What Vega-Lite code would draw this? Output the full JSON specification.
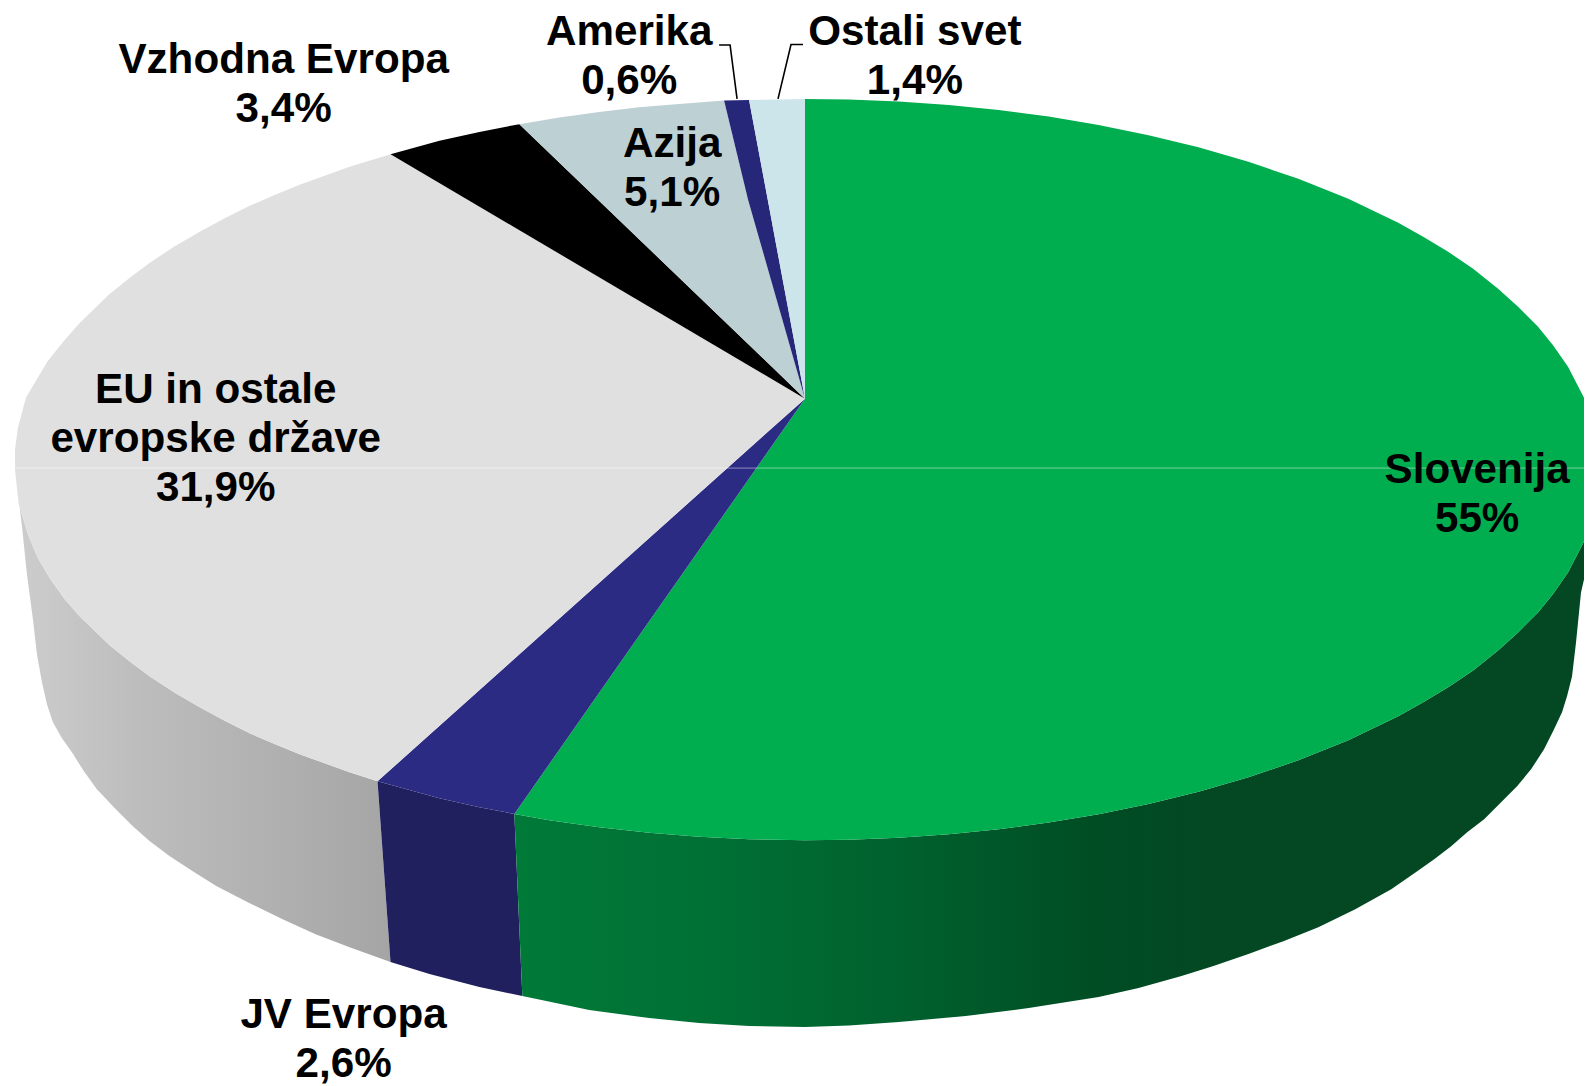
{"$schema":"https://vega.github.io/schema/vega-lite/v6.json","width":1586,"height":1086,"autosize":{"type":"fit","contains":"padding"},"padding":0,"background":"#ffffff","view":{"stroke":null},
"datasets":{
"walls":[
{"s":"grey","i":0,"x":378,"y":782},{"s":"grey","i":1,"x":350,"y":773},{"s":"grey","i":2,"x":325,"y":764},{"s":"grey","i":3,"x":300,"y":755},{"s":"grey","i":4,"x":275,"y":744.7},{"s":"grey","i":5,"x":250,"y":734},{"s":"grey","i":6,"x":225,"y":721.5},{"s":"grey","i":7,"x":200,"y":708},{"s":"grey","i":8,"x":175,"y":693.5},{"s":"grey","i":9,"x":150,"y":677},{"s":"grey","i":10,"x":130,"y":662},{"s":"grey","i":11,"x":110,"y":646},{"s":"grey","i":12,"x":80,"y":617},{"s":"grey","i":13,"x":65,"y":600},{"s":"grey","i":14,"x":50,"y":579},{"s":"grey","i":15,"x":38,"y":558.7},{"s":"grey","i":16,"x":28,"y":535},{"s":"grey","i":17,"x":19,"y":505},{"s":"grey","i":18,"x":15,"y":470},{"s":"grey","i":19,"x":22,"y":527},{"s":"grey","i":20,"x":27,"y":575},{"s":"grey","i":21,"x":33,"y":620},{"s":"grey","i":22,"x":37,"y":655},{"s":"grey","i":23,"x":42,"y":683},{"s":"grey","i":24,"x":47,"y":705},{"s":"grey","i":25,"x":53,"y":723},{"s":"grey","i":26,"x":62,"y":739},{"s":"grey","i":27,"x":72,"y":753},{"s":"grey","i":28,"x":84,"y":772},{"s":"grey","i":29,"x":97,"y":790},{"s":"grey","i":30,"x":115,"y":809},{"s":"grey","i":31,"x":133,"y":827},{"s":"grey","i":32,"x":150,"y":842},{"s":"grey","i":33,"x":170,"y":857},{"s":"grey","i":34,"x":193,"y":872},{"s":"grey","i":35,"x":217,"y":887},{"s":"grey","i":36,"x":250,"y":904},{"s":"grey","i":37,"x":283,"y":920},{"s":"grey","i":38,"x":316,"y":935},{"s":"grey","i":39,"x":350,"y":948},{"s":"grey","i":40,"x":391,"y":963},
{"s":"blue","i":0,"x":378,"y":782},{"s":"blue","i":1,"x":400,"y":788},{"s":"blue","i":2,"x":440,"y":799},{"s":"blue","i":3,"x":480,"y":808},{"s":"blue","i":4,"x":515,"y":814.7},{"s":"blue","i":5,"x":523,"y":997},{"s":"blue","i":6,"x":480,"y":988},{"s":"blue","i":7,"x":430,"y":975},{"s":"blue","i":8,"x":391,"y":963},
{"s":"green","i":0,"x":515,"y":814.7},{"s":"green","i":1,"x":550,"y":821},{"s":"green","i":2,"x":600,"y":828},{"s":"green","i":3,"x":650,"y":833.6},{"s":"green","i":4,"x":700,"y":837.5},{"s":"green","i":5,"x":750,"y":840},{"s":"green","i":6,"x":806,"y":841},{"s":"green","i":7,"x":850,"y":840.5},{"s":"green","i":8,"x":900,"y":838.5},{"s":"green","i":9,"x":950,"y":835},{"s":"green","i":10,"x":1000,"y":830},{"s":"green","i":11,"x":1050,"y":823.3},{"s":"green","i":12,"x":1100,"y":815},{"s":"green","i":13,"x":1150,"y":804.7},{"s":"green","i":14,"x":1200,"y":792.5},{"s":"green","i":15,"x":1250,"y":778},{"s":"green","i":16,"x":1300,"y":761},{"s":"green","i":17,"x":1350,"y":741},{"s":"green","i":18,"x":1400,"y":717},{"s":"green","i":19,"x":1425,"y":703},{"s":"green","i":20,"x":1450,"y":688},{"s":"green","i":21,"x":1475,"y":671},{"s":"green","i":22,"x":1500,"y":651},{"s":"green","i":23,"x":1520,"y":633},{"s":"green","i":24,"x":1540,"y":613},{"s":"green","i":25,"x":1555,"y":594.5},{"s":"green","i":26,"x":1570,"y":573},{"s":"green","i":27,"x":1586,"y":542},{"s":"green","i":28,"x":1586,"y":580},{"s":"green","i":29,"x":1583,"y":593},{"s":"green","i":30,"x":1578,"y":643},{"s":"green","i":31,"x":1574,"y":677},{"s":"green","i":32,"x":1569,"y":697},{"s":"green","i":33,"x":1564,"y":713},{"s":"green","i":34,"x":1556,"y":730},{"s":"green","i":35,"x":1546,"y":750},{"s":"green","i":36,"x":1533,"y":770},{"s":"green","i":37,"x":1519,"y":787},{"s":"green","i":38,"x":1503,"y":803},{"s":"green","i":39,"x":1486,"y":820},{"s":"green","i":40,"x":1469,"y":833},{"s":"green","i":41,"x":1453,"y":847},{"s":"green","i":42,"x":1436,"y":860},{"s":"green","i":43,"x":1419,"y":872},{"s":"green","i":44,"x":1393,"y":890},{"s":"green","i":45,"x":1357,"y":910},{"s":"green","i":46,"x":1320,"y":928},{"s":"green","i":47,"x":1285,"y":942},{"s":"green","i":48,"x":1250,"y":955},{"s":"green","i":49,"x":1215,"y":967},{"s":"green","i":50,"x":1183,"y":977},{"s":"green","i":51,"x":1140,"y":989},{"s":"green","i":52,"x":1100,"y":998},{"s":"green","i":53,"x":1030,"y":1009},{"s":"green","i":54,"x":967,"y":1017},{"s":"green","i":55,"x":900,"y":1023},{"s":"green","i":56,"x":850,"y":1026.5},{"s":"green","i":57,"x":806,"y":1028},{"s":"green","i":58,"x":750,"y":1027},{"s":"green","i":59,"x":700,"y":1024},{"s":"green","i":60,"x":650,"y":1019},{"s":"green","i":61,"x":590,"y":1011},{"s":"green","i":62,"x":523,"y":997}
],
"tops":[
{"s":"Slovenija","i":0,"x":806,"y":399},{"s":"Slovenija","i":1,"x":806,"y":99},{"s":"Slovenija","i":2,"x":850,"y":99.5},{"s":"Slovenija","i":3,"x":900,"y":101.5},{"s":"Slovenija","i":4,"x":950,"y":105},{"s":"Slovenija","i":5,"x":1000,"y":110},{"s":"Slovenija","i":6,"x":1050,"y":116.7},{"s":"Slovenija","i":7,"x":1100,"y":125},{"s":"Slovenija","i":8,"x":1150,"y":135.3},{"s":"Slovenija","i":9,"x":1200,"y":147.5},{"s":"Slovenija","i":10,"x":1250,"y":162},{"s":"Slovenija","i":11,"x":1300,"y":179},{"s":"Slovenija","i":12,"x":1350,"y":199},{"s":"Slovenija","i":13,"x":1400,"y":223},{"s":"Slovenija","i":14,"x":1425,"y":237},{"s":"Slovenija","i":15,"x":1450,"y":252},{"s":"Slovenija","i":16,"x":1475,"y":269},{"s":"Slovenija","i":17,"x":1500,"y":289},{"s":"Slovenija","i":18,"x":1520,"y":307},{"s":"Slovenija","i":19,"x":1540,"y":327},{"s":"Slovenija","i":20,"x":1555,"y":345.5},{"s":"Slovenija","i":21,"x":1570,"y":367},{"s":"Slovenija","i":22,"x":1586,"y":398},{"s":"Slovenija","i":23,"x":1586,"y":542},{"s":"Slovenija","i":24,"x":1570,"y":573},{"s":"Slovenija","i":25,"x":1555,"y":594.5},{"s":"Slovenija","i":26,"x":1540,"y":613},{"s":"Slovenija","i":27,"x":1520,"y":633},{"s":"Slovenija","i":28,"x":1500,"y":651},{"s":"Slovenija","i":29,"x":1475,"y":671},{"s":"Slovenija","i":30,"x":1450,"y":688},{"s":"Slovenija","i":31,"x":1425,"y":703},{"s":"Slovenija","i":32,"x":1400,"y":717},{"s":"Slovenija","i":33,"x":1350,"y":741},{"s":"Slovenija","i":34,"x":1300,"y":761},{"s":"Slovenija","i":35,"x":1250,"y":778},{"s":"Slovenija","i":36,"x":1200,"y":792.5},{"s":"Slovenija","i":37,"x":1150,"y":804.7},{"s":"Slovenija","i":38,"x":1100,"y":815},{"s":"Slovenija","i":39,"x":1050,"y":823.3},{"s":"Slovenija","i":40,"x":1000,"y":830},{"s":"Slovenija","i":41,"x":950,"y":835},{"s":"Slovenija","i":42,"x":900,"y":838.5},{"s":"Slovenija","i":43,"x":850,"y":840.5},{"s":"Slovenija","i":44,"x":806,"y":841},{"s":"Slovenija","i":45,"x":750,"y":840},{"s":"Slovenija","i":46,"x":700,"y":837.5},{"s":"Slovenija","i":47,"x":650,"y":833.6},{"s":"Slovenija","i":48,"x":600,"y":828},{"s":"Slovenija","i":49,"x":550,"y":821},{"s":"Slovenija","i":50,"x":515,"y":814.7},
{"s":"JV Evropa","i":0,"x":806,"y":399},{"s":"JV Evropa","i":1,"x":515,"y":814.7},{"s":"JV Evropa","i":2,"x":480,"y":808},{"s":"JV Evropa","i":3,"x":440,"y":799},{"s":"JV Evropa","i":4,"x":400,"y":788},{"s":"JV Evropa","i":5,"x":378,"y":782},
{"s":"EU in ostale evropske države","i":0,"x":806,"y":399},{"s":"EU in ostale evropske države","i":1,"x":378,"y":782},{"s":"EU in ostale evropske države","i":2,"x":350,"y":773},{"s":"EU in ostale evropske države","i":3,"x":325,"y":764},{"s":"EU in ostale evropske države","i":4,"x":300,"y":755},{"s":"EU in ostale evropske države","i":5,"x":275,"y":744.7},{"s":"EU in ostale evropske države","i":6,"x":250,"y":734},{"s":"EU in ostale evropske države","i":7,"x":225,"y":721.5},{"s":"EU in ostale evropske države","i":8,"x":200,"y":708},{"s":"EU in ostale evropske države","i":9,"x":175,"y":693.5},{"s":"EU in ostale evropske države","i":10,"x":150,"y":677},{"s":"EU in ostale evropske države","i":11,"x":130,"y":662},{"s":"EU in ostale evropske države","i":12,"x":110,"y":646},{"s":"EU in ostale evropske države","i":13,"x":80,"y":617},{"s":"EU in ostale evropske države","i":14,"x":65,"y":600},{"s":"EU in ostale evropske države","i":15,"x":50,"y":579},{"s":"EU in ostale evropske države","i":16,"x":38,"y":558.7},{"s":"EU in ostale evropske države","i":17,"x":28,"y":535},{"s":"EU in ostale evropske države","i":18,"x":19,"y":505},{"s":"EU in ostale evropske države","i":19,"x":15,"y":470},{"s":"EU in ostale evropske države","i":20,"x":15,"y":450},{"s":"EU in ostale evropske države","i":21,"x":18,"y":428},{"s":"EU in ostale evropske države","i":22,"x":26,"y":398},{"s":"EU in ostale evropske države","i":23,"x":36,"y":381},{"s":"EU in ostale evropske države","i":24,"x":48,"y":361},{"s":"EU in ostale evropske države","i":25,"x":65,"y":340},{"s":"EU in ostale evropske države","i":26,"x":80,"y":323},{"s":"EU in ostale evropske države","i":27,"x":110,"y":294},{"s":"EU in ostale evropske države","i":28,"x":130,"y":278},{"s":"EU in ostale evropske države","i":29,"x":150,"y":263},{"s":"EU in ostale evropske države","i":30,"x":175,"y":246.5},{"s":"EU in ostale evropske države","i":31,"x":200,"y":232},{"s":"EU in ostale evropske države","i":32,"x":225,"y":218.5},{"s":"EU in ostale evropske države","i":33,"x":250,"y":206},{"s":"EU in ostale evropske države","i":34,"x":275,"y":195.3},{"s":"EU in ostale evropske države","i":35,"x":300,"y":185},{"s":"EU in ostale evropske države","i":36,"x":325,"y":176},{"s":"EU in ostale evropske države","i":37,"x":350,"y":167},{"s":"EU in ostale evropske države","i":38,"x":391,"y":154.4},
{"s":"Vzhodna Evropa","i":0,"x":806,"y":399},{"s":"Vzhodna Evropa","i":1,"x":391,"y":154.4},{"s":"Vzhodna Evropa","i":2,"x":440,"y":141},{"s":"Vzhodna Evropa","i":3,"x":480,"y":132},{"s":"Vzhodna Evropa","i":4,"x":520,"y":124.3},
{"s":"Azija","i":0,"x":806,"y":399},{"s":"Azija","i":1,"x":520,"y":124.3},{"s":"Azija","i":2,"x":560,"y":117.6},{"s":"Azija","i":3,"x":600,"y":112},{"s":"Azija","i":4,"x":640,"y":107.4},{"s":"Azija","i":5,"x":680,"y":104},{"s":"Azija","i":6,"x":725,"y":100.5},{"s":"Azija","i":7,"x":749,"y":200},
{"s":"Amerika","i":0,"x":806,"y":399},{"s":"Amerika","i":1,"x":749,"y":200},{"s":"Amerika","i":2,"x":725,"y":100.5},{"s":"Amerika","i":3,"x":750,"y":100},
{"s":"Ostali svet","i":0,"x":806,"y":399},{"s":"Ostali svet","i":1,"x":750,"y":100},{"s":"Ostali svet","i":2,"x":780,"y":99.5},{"s":"Ostali svet","i":3,"x":806,"y":99}
],
"leaders":[
{"s":"Amerika","i":0,"x":720,"y":45},{"s":"Amerika","i":1,"x":731,"y":45},{"s":"Amerika","i":2,"x":738,"y":99},
{"s":"Ostali svet","i":0,"x":804,"y":44.5},{"s":"Ostali svet","i":1,"x":792,"y":44.5},{"s":"Ostali svet","i":2,"x":779,"y":99},
{"s":"seam","i":0,"x":15,"y":468.5},{"s":"seam","i":1,"x":1586,"y":468.5}
],
"labels":[
{"label":"Slovenija\n55%","x":1479,"y":483},
{"label":"JV Evropa\n2,6%","x":344,"y":1029},
{"label":"EU in ostale\nevropske države\n31,9%","x":216,"y":403},
{"label":"Vzhodna Evropa\n3,4%","x":284,"y":73},
{"label":"Azija\n5,1%","x":673,"y":157},
{"label":"Amerika\n0,6%","x":630,"y":45},
{"label":"Ostali svet\n1,4%","x":916,"y":45}
]},
"encoding":{
"x":{"field":"x","type":"quantitative","scale":{"domain":[0,1586],"nice":false,"zero":false},"axis":null},
"y":{"field":"y","type":"quantitative","scale":{"domain":[1086,0],"nice":false,"zero":false},"axis":null}
},
"layer":[
{"data":{"name":"walls"},"transform":[{"filter":"datum.s==='grey'"}],"mark":{"type":"line","filled":true,"strokeWidth":0,"color":{"gradient":"linear","x1":0,"y1":0,"x2":1,"y2":0,"stops":[{"offset":0,"color":"#cdcdcd"},{"offset":0.35,"color":"#bcbcbc"},{"offset":0.7,"color":"#b0b0b0"},{"offset":1,"color":"#a5a5a5"}]}},"encoding":{"order":{"field":"i","type":"quantitative"}}},
{"data":{"name":"walls"},"transform":[{"filter":"datum.s==='blue'"}],"mark":{"type":"line","filled":true,"strokeWidth":0,"color":"#20205f"},"encoding":{"order":{"field":"i","type":"quantitative"}}},
{"data":{"name":"walls"},"transform":[{"filter":"datum.s==='green'"}],"mark":{"type":"line","filled":true,"strokeWidth":0,"color":{"gradient":"linear","x1":0,"y1":0,"x2":1,"y2":0,"stops":[{"offset":0,"color":"#007a38"},{"offset":0.2,"color":"#006f34"},{"offset":0.36,"color":"#00612e"},{"offset":0.55,"color":"#004c23"},{"offset":0.68,"color":"#044723"},{"offset":1,"color":"#044723"}]}},"encoding":{"order":{"field":"i","type":"quantitative"}}},
{"data":{"name":"tops"},"mark":{"type":"line","filled":true,"strokeWidth":0},"encoding":{"order":{"field":"i","type":"quantitative"},"color":{"field":"s","type":"nominal","legend":null,"scale":{"domain":["Slovenija","JV Evropa","EU in ostale evropske države","Vzhodna Evropa","Azija","Amerika","Ostali svet"],"range":["#00ae4f","#2c2b84","#e0e0e0","#000000","#bdd0d4","#27277a","#cbe5ea"]}}}},
{"data":{"name":"leaders"},"transform":[{"filter":"datum.s!=='seam'"}],"mark":{"type":"line","color":"#000000","strokeWidth":1.6},"encoding":{"order":{"field":"i","type":"quantitative"},"detail":{"field":"s"}}},
{"data":{"name":"leaders"},"transform":[{"filter":"datum.s==='seam'"}],"mark":{"type":"line","color":"#ffffff","opacity":0.45,"strokeWidth":1},"encoding":{"order":{"field":"i","type":"quantitative"}}},
{"data":{"name":"labels"},"mark":{"type":"text","font":"Liberation Sans","fontWeight":"bold","fontSize":42.2,"align":"center","baseline":"alphabetic","lineBreak":"\n","lineHeight":49,"color":"#000000"},"encoding":{"text":{"field":"label"}}}
]}
